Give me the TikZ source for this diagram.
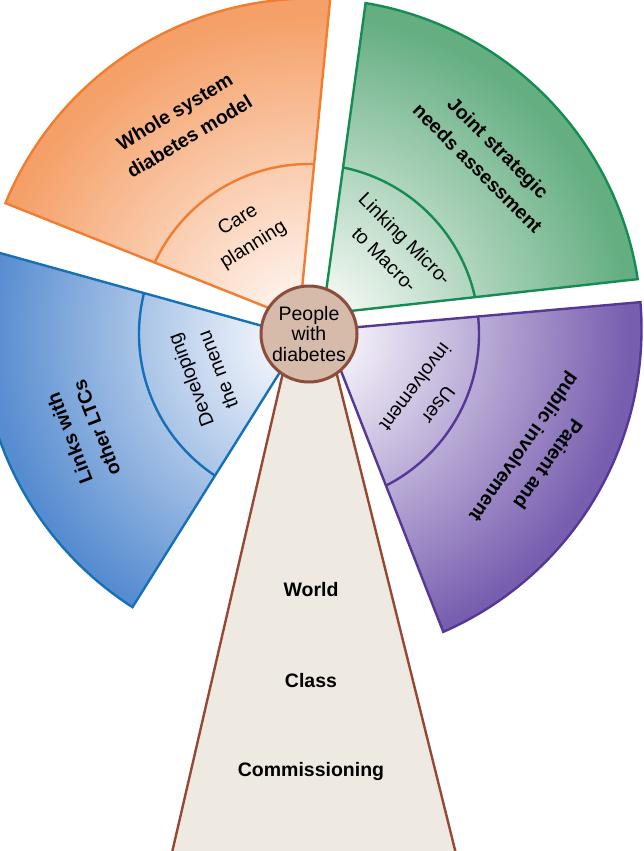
\documentclass[tikz,border=0pt]{standalone}
\usepackage{fontspec}
\setmainfont{Liberation Sans}
\definecolor{orB}{RGB}{240,125,48}
\definecolor{orOut}{RGB}{245,160,104}
\definecolor{orIn}{RGB}{254,240,232}
\definecolor{grB}{RGB}{20,140,82}
\definecolor{grOut}{RGB}{100,174,130}
\definecolor{grIn}{RGB}{238,245,239}
\definecolor{blB}{RGB}{22,112,182}
\definecolor{blOut}{RGB}{86,140,208}
\definecolor{blIn}{RGB}{236,241,250}
\definecolor{puB}{RGB}{85,55,150}
\definecolor{puOut}{RGB}{120,94,175}
\definecolor{puIn}{RGB}{240,236,247}
\definecolor{stB}{RGB}{150,72,52}
\definecolor{stF}{RGB}{238,234,225}
\definecolor{ciB}{RGB}{140,78,58}
\definecolor{ciF}{RGB}{214,186,170}
% shaded on a circle of radius 400pt: 25bp = 400pt, so 1bp = 16pt
\pgfdeclareradialshading{orsh}{\pgfpoint{0bp}{0bp}}{color(0bp)=(orIn); color(3bp)=(orIn); color(20bp)=(orOut); color(50bp)=(orOut)}
\pgfdeclareradialshading{grsh}{\pgfpoint{0bp}{0bp}}{color(0bp)=(grIn); color(3bp)=(grIn); color(20bp)=(grOut); color(50bp)=(grOut)}
\pgfdeclareradialshading{blsh}{\pgfpoint{0bp}{0bp}}{color(0bp)=(blIn); color(3bp)=(blIn); color(20bp)=(blOut); color(50bp)=(blOut)}
\pgfdeclareradialshading{push}{\pgfpoint{0bp}{0bp}}{color(0bp)=(puIn); color(3bp)=(puIn); color(20bp)=(puOut); color(50bp)=(puOut)}
\begin{document}
\begin{tikzpicture}[x=1pt,y=1pt,
  secline/.style={line width=2.4pt, line join=miter},
  boldlab/.style={font=\bfseries\fontsize{19.5}{29}\selectfont, align=center, inner sep=0pt},
  reglab/.style={font=\fontsize{19.5}{29}\selectfont, align=center, inner sep=0pt},
  stemlab/.style={font=\bfseries\fontsize{19.5}{23}\selectfont, inner sep=0pt}]
\useasboundingbox (0,0) rectangle (643,-851);
\clip (0,0) rectangle (643,-851);
\coordinate (C) at (309,-334);
% ---------- orange sector
\coordinate (oA) at (299,-320);
\coordinate (oO) at (330.18,0.94);
\coordinate (oI) at (314.15,-164.09);
\begin{scope}
  \clip (oA) -- (oO) arc[start angle=86.67, end angle=157.62, radius=330.5] -- cycle;
  \shade[shading=orsh] (C) circle[radius=400];
\end{scope}
\draw[secline, orB] (oI) arc[start angle=88.26, end angle=155.16, radius=170];
\draw[secline, orB] (oA) -- (oO) arc[start angle=86.67, end angle=157.62, radius=330.5] -- cycle;
% ---------- green sector
\coordinate (gA) at (323,-314);
\coordinate (gO) at (365.59,-3.06);
\coordinate (gI) at (343.07,-167.46);
\begin{scope}
  \clip (gA) -- (gO) arc[start angle=80.49, end angle=8.68, radius=330.5] -- cycle;
  \shade[shading=grsh] (C) circle[radius=400];
\end{scope}
\draw[secline, grB] (gI) arc[start angle=78.44, end angle=12.51, radius=170];
\draw[secline, grB] (gA) -- (gO) arc[start angle=80.49, end angle=8.68, radius=330.5] -- cycle;
% ---------- blue sector
\coordinate (bA) at (302,-337);
\coordinate (bO) at (-9.98,-250.25);
\coordinate (bI) at (144.0,-293.07);
\begin{scope}
  \clip (bA) -- (bO) arc[start angle=166.22, end angle=237.31, radius=330.5] -- cycle;
  \shade[shading=blsh] (C) circle[radius=400];
\end{scope}
\draw[secline, blB] (bI) arc[start angle=166.07, end angle=236.44, radius=170];
\draw[secline, blB] (bA) -- (bO) arc[start angle=166.22, end angle=237.31, radius=330.5] -- cycle;
% ---------- purple sector
\coordinate (pA) at (325,-330);
\coordinate (pO) at (640.4,-302.14);
\coordinate (pI) at (478.09,-316.48);
\begin{scope}
  \clip (pA) -- (pO) arc[start angle=4.66, end angle=-66.41, radius=330.5] -- cycle;
  \shade[shading=push] (C) circle[radius=400];
\end{scope}
\draw[secline, puB] (pI) arc[start angle=5.92, end angle=-63.08, radius=170];
\draw[secline, puB] (pA) -- (pO) arc[start angle=4.66, end angle=-66.41, radius=330.5] -- cycle;
% ---------- stem
\coordinate (s1) at (288.2,-350);
\coordinate (s2) at (330.8,-350);
\coordinate (s3) at (460,-870);
\coordinate (s4) at (168,-870);
\draw[fill=stF, draw=stB, line width=2.4pt] (s1) -- (s2) -- (s3) -- (s4) -- cycle;
% ---------- centre
\node[circle, minimum size=96pt, inner sep=0pt, fill=ciF, draw=ciB, line width=3pt,
      font=\fontsize{19.5}{20.8}\selectfont, align=center] (hub) at (C) {People\\with\\diabetes};
% ---------- labels
\node[boldlab, rotate=31] (t1) at (182,-124) {Whole system\\diabetes model};
\node[reglab, rotate=32] (t2) at (246,-233) {Care\\planning};
\node[boldlab, rotate=-45] (t3) at (488,-158) {Joint strategic\\needs assessment};
\node[reglab, rotate=-45] (t4) at (395,-249) {Linking Micro-\\to Macro-};
\node[boldlab, rotate=111] (t5) at (83,-433) {Links with\\other LTCs};
\node[reglab, rotate=111] (t6) at (204,-375) {Developing\\the menu};
\node[boldlab, rotate=-125] (t7) at (535,-455) {Patient and\\public involvement};
\node[reglab, rotate=-127] (t8) at (427,-396) {User\\involvement};
\node[stemlab] (w1) at (311,-590) {World};
\node[stemlab] (w2) at (311,-681) {Class};
\node[stemlab] (w3) at (311,-771) {Commissioning};
\end{tikzpicture}
\end{document}
